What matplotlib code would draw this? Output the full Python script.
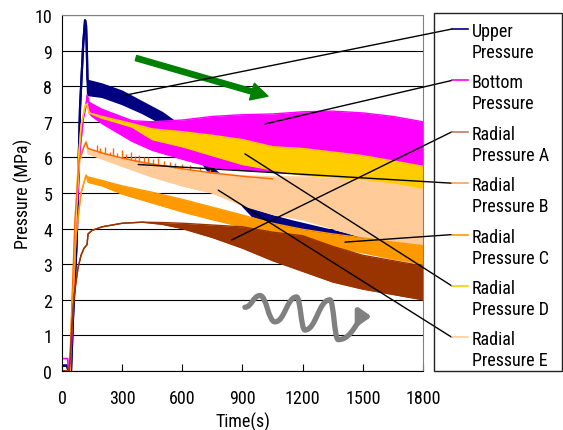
import numpy as np
import matplotlib
matplotlib.use('Agg')
import matplotlib.pyplot as plt
from matplotlib.patches import Rectangle, FancyArrowPatch
from matplotlib.path import Path

plt.rcParams['font.family'] = ['Roboto Condensed', 'Liberation Sans', 'DejaVu Sans']

# time axis ticks
x_ticks = [0, 300, 600, 900, 1200, 1500, 1800]
y_ticks = list(range(0, 11))

# Upper Pressure (band: lower / upper envelope)
up_t = [0, 25, 30, 45, 55, 73, 90, 106, 115, 120, 124, 127, 130, 200, 300, 400, 500, 600, 700, 750, 850, 950, 1050, 1150, 1300, 1450, 1600, 1800]
up_lo = [0.15, 0.15, 0.05, 0.0, 1.5, 3.6, 7.4, 9.2, 9.85, 9.7, 9.0, 8.2, 7.75, 7.7, 7.5, 7.25, 6.95, 6.55, 5.85, 5.45, 4.95, 4.35, 4.15, 4.03, 3.85, 3.7, 3.55, 3.35]
up_hi = [0.15, 0.15, 0.05, 0.0, 1.5, 3.6, 7.4, 9.2, 9.85, 9.7, 9.0, 8.2, 8.15, 8.05, 7.85, 7.55, 7.25, 6.85, 6.15, 5.7, 5.2, 4.55, 4.35, 4.2, 4.0, 3.8, 3.65, 3.45]

# Bottom Pressure
bt_t = [0, 28, 32, 42, 55, 70, 90, 106, 118, 126, 135, 150, 200, 350, 450, 600, 750, 900, 1050, 1200, 1350, 1500, 1650, 1800]
bt_lo = [0.35, 0.35, 0.05, 0.05, 1.8, 4.0, 6.2, 7.08, 7.4, 7.75, 7.25, 7.15, 6.95, 6.45, 6.2, 5.95, 5.72, 5.65, 5.6, 5.58, 5.55, 5.52, 5.5, 5.5]
bt_hi = [0.35, 0.35, 0.05, 0.05, 1.8, 4.0, 6.2, 7.08, 7.4, 7.75, 7.55, 7.5, 7.35, 7.03, 7.0, 7.05, 7.15, 7.2, 7.22, 7.28, 7.3, 7.25, 7.15, 7.0]

# Radial Pressure D
d_t = [0, 38, 50, 65, 80, 95, 115, 125, 135, 200, 350, 450, 600, 750, 900, 1050, 1200, 1350, 1500, 1650, 1800]
d_lo = [0, 0, 1.5, 3.8, 5.8, 6.9, 7.45, 7.5, 7.25, 7.1, 6.85, 6.5, 6.3, 6.05, 5.8, 5.65, 5.5, 5.45, 5.3, 5.15, 4.95]
d_hi = [0, 0, 1.5, 3.8, 5.8, 6.9, 7.45, 7.5, 7.25, 7.15, 6.95, 6.8, 6.72, 6.62, 6.5, 6.3, 6.25, 6.15, 6.05, 5.9, 5.75]

# Radial Pressure E
e_t = [0, 38, 50, 65, 85, 110, 120, 130, 300, 450, 600, 750, 900, 1050, 1200, 1350, 1500, 1650, 1800]
e_lo = [0, 0, 1.8, 4.0, 5.8, 6.35, 6.45, 6.1, 5.75, 5.45, 5.2, 5.0, 4.65, 4.4, 4.25, 4.0, 3.75, 3.62, 3.5]
e_hi = [0, 0, 1.8, 4.0, 5.8, 6.35, 6.45, 6.25, 5.98, 5.82, 5.67, 5.57, 5.48, 5.45, 5.45, 5.4, 5.35, 5.25, 5.1]

# Radial Pressure B (line with spikes)
b_t = [0, 35, 40, 50, 65, 85, 110, 120, 130, 200, 300, 400, 500, 600, 700, 800, 900, 1000, 1050]
b_p = [0, 0, 0.3, 2.0, 4.3, 5.9, 6.3, 6.42, 6.25, 6.12, 5.98, 5.86, 5.77, 5.68, 5.6, 5.53, 5.47, 5.42, 5.4]
spike_t = [175, 190, 215, 240, 255, 275, 300, 320, 345, 365, 385, 410, 430, 455, 480, 510, 540, 565, 600, 640, 690, 740]
spike_lo = [6.17, 6.14, 6.1, 6.06, 6.04, 6.01, 5.98, 5.96, 5.93, 5.9, 5.88, 5.85, 5.83, 5.81, 5.79, 5.76, 5.73, 5.71, 5.68, 5.65, 5.61, 5.57]
spike_hi = [6.35, 6.25, 6.3, 6.15, 6.25, 6.12, 6.2, 6.1, 6.15, 6.05, 6.08, 6.02, 6.0, 5.95, 5.97, 5.9, 5.88, 5.85, 5.82, 5.78, 5.72, 5.66]

# Radial Pressure C
c_t = [0, 38, 50, 70, 95, 120, 130, 200, 300, 450, 600, 750, 900, 1050, 1200, 1350, 1500, 1650, 1800]
c_lo = [0, 0, 1.5, 3.8, 5.0, 5.5, 5.3, 5.2, 4.97, 4.72, 4.47, 4.25, 4.05, 3.82, 3.65, 3.48, 3.32, 3.15, 3.0]
c_hi = [0, 0, 1.5, 3.8, 5.0, 5.5, 5.45, 5.35, 5.2, 5.02, 4.82, 4.6, 4.38, 4.15, 3.98, 3.85, 3.74, 3.62, 3.52]

# Radial Pressure A
a_t = [0, 35, 42, 50, 60, 70, 80, 95, 110, 125, 130, 150, 200, 300, 400, 500, 600, 750, 900, 1050, 1200, 1350, 1500, 1650, 1800]
a_lo = [0, 0, 0.4, 1.3, 2.1, 2.5, 2.9, 3.25, 3.45, 3.55, 3.85, 3.95, 4.05, 4.15, 4.18, 4.12, 4.0, 3.75, 3.45, 3.1, 2.8, 2.5, 2.3, 2.15, 2.0]
a_hi = [0, 0, 0.4, 1.3, 2.1, 2.5, 2.9, 3.25, 3.45, 3.55, 3.85, 3.95, 4.05, 4.15, 4.18, 4.17, 4.15, 4.1, 4.05, 3.9, 3.8, 3.5, 3.25, 3.1, 2.95]

labels = [('Upper', 'Pressure'), ('Bottom', 'Pressure'), ('Radial', 'Pressure A'),
          ('Radial', 'Pressure B'), ('Radial', 'Pressure C'), ('Radial', 'Pressure D'),
          ('Radial', 'Pressure E')]
colors = ['#000080', '#FF00FF', '#993300', '#FF6600', '#FF9900', '#FFCC00', '#FFCC99']
key_colors = ['#000080', '#FF00FF', '#C08060', '#FFA060', '#FF9900', '#FFCC00', '#FFCC99']
# where each leader line starts (time, MPa)
leader_pts = [(300, 7.73), (1012, 6.94), (846, 3.68), (380, 5.8), (1411, 3.62), (912, 6.1), (779, 5.08)]

fig = plt.figure(figsize=(5.63, 4.31), dpi=100)
ax = fig.add_axes([0.1101, 0.1369, 0.6412, 0.826])


def band(t, lo, hi, color, z, lw=1.0):
    ax.fill_between(t, lo, hi, color=color, lw=0, zorder=z)
    ax.plot(t, hi, color=color, lw=lw, zorder=z)
    ax.plot(t, lo, color=color, lw=lw, zorder=z)


band(up_t, up_lo, up_hi, colors[0], 2, lw=1.6)
band(bt_t, bt_lo, bt_hi, colors[1], 3)
band(d_t, d_lo, d_hi, colors[5], 4)
band(e_t, e_lo, e_hi, colors[6], 5)
ax.plot(b_t, b_p, color=colors[3], lw=1.0, zorder=6)
ax.vlines(spike_t, spike_lo, spike_hi, color=colors[3], lw=1.0, zorder=6)
band(c_t, c_lo, c_hi, colors[4], 7)
band(a_t, a_lo, a_hi, colors[2], 8)

ax.set_xlim(0, 1800)
ax.set_ylim(0, 10)
ax.set_xticks(x_ticks)
ax.set_yticks(y_ticks)
ax.yaxis.grid(True, color='black', lw=0.8)
ax.set_axisbelow(True)
ax.tick_params(axis='x', direction='in', length=5, pad=13, labelsize=13)
ax.tick_params(axis='y', length=0, pad=7, labelsize=13)
for s in ['top', 'right']:
    ax.spines[s].set_color('#808080')
for s in ax.spines.values():
    s.set_zorder(10)
ax.set_xlabel('Time(s)', fontsize=13)
ax.set_ylabel('Pressure (MPa)', fontsize=13)
ax.xaxis.set_label_coords(0.5, -0.115)
ax.yaxis.set_label_coords(-0.08, 0.5)

# green trend arrow
ax.annotate('', xy=(1027, 7.72), xytext=(369, 8.79),
            arrowprops=dict(arrowstyle='simple,head_length=1.2,head_width=1.25,tail_width=0.38',
                            mutation_scale=10, color='#008000', shrinkA=0, shrinkB=0), zorder=11)

# gray wavy arrow
wave = [(912, 1.79), (987, 2.12), (1062, 1.38), (1170, 2.08), (1211, 1.15), (1336, 2.0), (1377, 0.88), (1544, 1.53)]
verts = [wave[0]]
codes = [Path.MOVETO]
for (x0, y0), (x1, y1) in zip(wave[:-1], wave[1:]):
    dx = x1 - x0
    verts += [(x0 + 0.45 * dx, y0), (x1 - 0.45 * dx, y1), (x1, y1)]
    codes += [Path.CURVE4] * 3
ax.add_patch(FancyArrowPatch(path=Path(verts, codes), arrowstyle='-|>,head_length=0.5,head_width=0.35',
                             mutation_scale=14, color='#808080', lw=3.8, capstyle='round',
                             joinstyle='round', transform=ax.transData, zorder=11))

# legend box
W, H = 563, 431
fig.patches.append(Rectangle((434 / W, 1 - 372 / H), 128 / W, 358 / H, transform=fig.transFigure,
                             fill=False, ec='#222222', lw=1.0))
for i, ((l1, l2), c, pt) in enumerate(zip(labels, key_colors, leader_pts)):
    yc = 30 + 51.4 * i
    fig.add_artist(plt.Line2D([452 / W, 468 / W], [1 - yc / H, 1 - yc / H], color=c, lw=1.2,
                              transform=fig.transFigure))
    fig.text(472 / W, 1 - (yc + 7) / H, l1, fontsize=13, va='baseline')
    fig.text(472 / W, 1 - (yc + 28) / H, l2, fontsize=13, va='baseline')
    ax.annotate('', xy=(452 / W, 1 - yc / H), xycoords='figure fraction', xytext=pt,
                textcoords='data', annotation_clip=False, zorder=12,
                arrowprops=dict(arrowstyle='-', color='black', lw=1.0, shrinkA=0, shrinkB=0))

fig.savefig('out.png', dpi=100)
